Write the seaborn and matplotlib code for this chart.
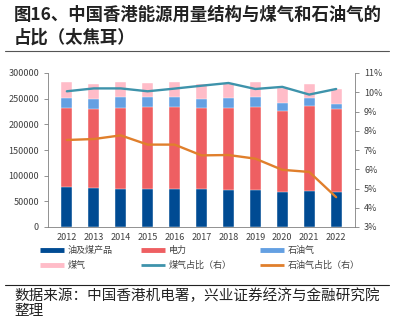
import numpy as np
import pandas as pd
import matplotlib
matplotlib.use("Agg")
import matplotlib.pyplot as plt
import seaborn as sns
from matplotlib.lines import Line2D

years = ["2012", "2013", "2014", "2015", "2016", "2017", "2018", "2019", "2020", "2021", "2022"]
oil_coal = [77000, 75600, 73700, 73700, 73700, 73700, 72400, 71800, 67900, 70500, 67900]
electricity = [154500, 153900, 157800, 159100, 159100, 157800, 159700, 162900, 159000, 164800, 161000]
lpg = [20700, 20700, 21900, 20000, 20000, 18700, 19400, 18100, 15600, 16900, 11600]
town_gas = [29700, 28500, 29100, 28450, 29100, 27800, 28500, 29100, 29050, 26500, 28500]
town_gas_share = [10.05, 10.2, 10.2, 10.05, 10.19, 10.34, 10.48, 10.17, 10.28, 9.88, 10.17]
lpg_share = [7.52, 7.57, 7.76, 7.28, 7.28, 6.72, 6.74, 6.55, 5.97, 5.86, 4.55]

sns.set_style("white")
plt.rcParams['font.family'] = ['Noto Sans CJK SC', 'DejaVu Sans']

c_blue = "#004B93"
c_red = "#EE5F62"
c_lb = "#64A0E2"
c_pink = "#FFBCC8"
c_teal = "#3E93AB"
c_orange = "#E07F2C"

df = pd.DataFrame({"year": years, "oil": oil_coal, "ele": electricity, "lpg": lpg, "gas": town_gas})
df["c1"] = df["oil"]
df["c2"] = df["c1"] + df["ele"]
df["c3"] = df["c2"] + df["lpg"]
df["c4"] = df["c3"] + df["gas"]

fig = plt.figure(figsize=(4.02, 3.21), dpi=100)
ax = fig.add_axes([48/402, 1-227/321, (355-48)/402, (227-73)/321])

w = 0.4
for col, colr in [("c4", c_pink), ("c3", c_lb), ("c2", c_red), ("c1", c_blue)]:
    sns.barplot(data=df, x="year", y=col, color=colr, width=w, ax=ax,
                saturation=1, edgecolor="white", linewidth=0.3)

ax.set_ylim(0, 300000)
ax.set_yticks(np.arange(0, 300001, 50000))
ax.set_xlim(-0.7, 10.7)
ax.set_xlabel("")
ax.set_ylabel("")
ax.tick_params(axis="both", labelsize=6.5, colors="#404040", length=3, width=0.6)
ax.tick_params(axis="x", length=0, pad=4)
ax.tick_params(axis="y", direction="out", length=3, color="#808080")
for s in ["top", "right"]:
    ax.spines[s].set_visible(False)
ax.spines["left"].set_color("#808080")
ax.spines["bottom"].set_color("#808080")
ax.spines["left"].set_linewidth(0.6)
ax.spines["bottom"].set_linewidth(0.6)

ax2 = ax.twinx()
xs = np.arange(len(years))
sns.lineplot(x=xs, y=town_gas_share, color=c_teal, linewidth=1.7, ax=ax2)
sns.lineplot(x=xs, y=lpg_share, color=c_orange, linewidth=1.7, ax=ax2)
ax2.set_ylim(3, 11)
ax2.set_yticks(range(3, 12))
ax2.set_yticklabels([f"{v}%" for v in range(3, 12)])
ax2.tick_params(axis="y", labelsize=6.5, colors="#404040", length=3, width=0.6, color="#808080")
for s in ["top", "left", "bottom"]:
    ax2.spines[s].set_visible(False)
ax2.spines["right"].set_color("#808080")
ax2.spines["right"].set_linewidth(0.6)
ax2.set_xlim(-0.7, 10.7)

handles = [
    Line2D([], [], color=c_blue, lw=3.5, solid_capstyle="butt"),
    Line2D([], [], color=c_pink, lw=3.5, solid_capstyle="butt"),
    Line2D([], [], color=c_red, lw=3.5, solid_capstyle="butt"),
    Line2D([], [], color=c_teal, lw=2, solid_capstyle="butt"),
    Line2D([], [], color=c_lb, lw=3.5, solid_capstyle="butt"),
    Line2D([], [], color=c_orange, lw=2, solid_capstyle="butt"),
]
labels = ["油及煤产品", "煤气", "电力", "煤气占比（右）", "石油气", "石油气占比（右）"]
fig.legend(handles, labels, ncol=3, loc="center", bbox_to_anchor=(200/402, 1-258/321),
           frameon=False, fontsize=6.5, handlelength=2.6, columnspacing=3.2,
           handletextpad=0.4, labelspacing=0.6, labelcolor="#404040")

fig.text(14/402, 1-15/321, "图16、中国香港能源用量结构与煤气和石油气的", fontsize=12.5,
         fontweight="bold", va="center", ha="left", color="#222222")
fig.text(14/402, 1-38/321, "占比（太焦耳）", fontsize=12.5,
         fontweight="bold", va="center", ha="left", color="#222222")
fig.add_artist(Line2D([5/402, 389/402], [1-51/321, 1-51/321], color="#555555", lw=0.8))
fig.add_artist(Line2D([5/402, 389/402], [1-285/321, 1-285/321], color="#222222", lw=0.8))
fig.text(14/402, 1-296/321, "数据来源：中国香港机电署，兴业证券经济与金融研究院", fontsize=10.5,
         va="center", ha="left", color="#222222")
fig.text(14/402, 1-311/321, "整理", fontsize=10.5, va="center", ha="left", color="#222222")

fig.savefig("out.png", dpi=100)
